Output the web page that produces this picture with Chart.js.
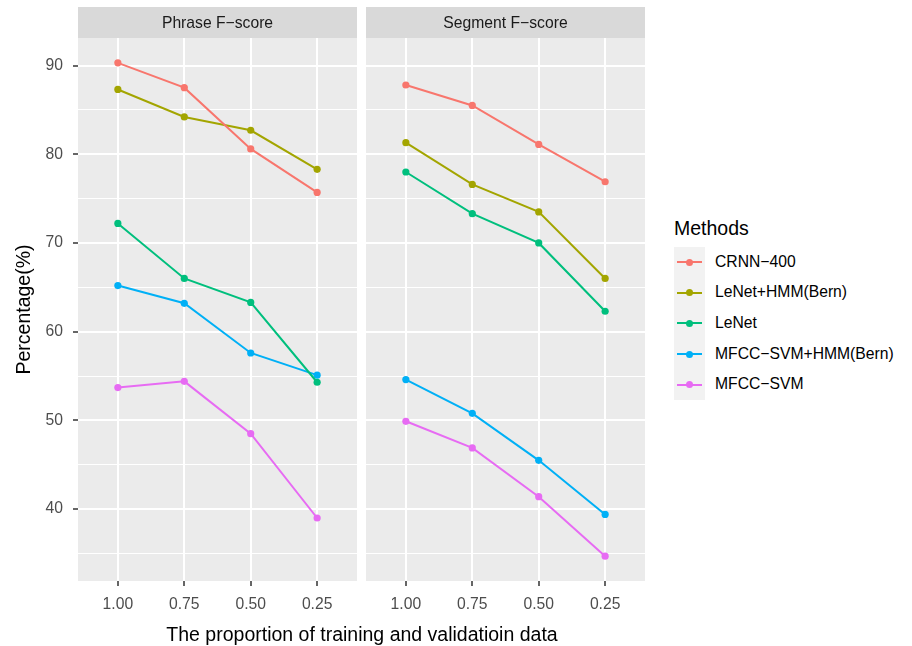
<!DOCTYPE html>
<html>
<head>
<meta charset="utf-8">
<title>Phrase / Segment F-score</title>
<script src="https://cdn.jsdelivr.net/npm/chart.js@4.4.1/dist/chart.umd.min.js"></script>
<style>
  body { margin: 0; background: #fff; }
  #wrap { position: relative; width: 912px; height: 646px; background: #fff;
          font-family: 'Liberation Sans', Arial, sans-serif; overflow: hidden; }
  canvas { position: absolute; top: 0; }
  #phraseChart { left: 0; }
  #segmentChart { left: 366px; }
  #xTitle { position: absolute; left: 0; width: 724px; top: 624px; text-align: center;
            font-size: 19.5px; line-height: 20px; color: #000; white-space: nowrap; }
  #legendTitle { position: absolute; left: 674px; top: 218px; font-size: 19.5px;
                 line-height: 20px; color: #000; }
  #legendKeys { position: absolute; left: 674px; top: 246.7px; width: 31px; background: #F2F2F2; }
  .row { position: relative; height: 30.7px; }
  .row .ln { position: absolute; left: 3px; width: 25px; height: 2px; top: 14.35px; }
  .row .dot { position: absolute; left: 12px; top: 11.85px; width: 7px; height: 7px; border-radius: 50%; }
  .row .lbl { position: absolute; left: 41px; top: 0; font-size: 15.7px; line-height: 30.7px;
              color: #000; white-space: nowrap; }
</style>
</head>
<body>
<div id="wrap">
  <canvas id="phraseChart" width="357" height="646"></canvas>
  <canvas id="segmentChart" width="279" height="646"></canvas>
  <div id="xTitle">The proportion of training and validatioin data</div>
  <div id="legendTitle">Methods</div>
  <div id="legendKeys"></div>
</div>
<script>
// ----------------------------------------
// Data
// ----------------------------------------
const categories = ['1.00', '0.75', '0.50', '0.25'];
const methods = ['CRNN\u2212400', 'LeNet+HMM(Bern)', 'LeNet', 'MFCC\u2212SVM+HMM(Bern)', 'MFCC\u2212SVM'];
const colors = ['#F8766D', '#A3A500', '#00BF7D', '#00B0F6', '#E76BF3'];

// Phrase F-score panel
const phraseCrnn      = [90.3, 87.5, 80.6, 75.7];
const phraseLenetHmm  = [87.3, 84.2, 82.7, 78.3];
const phraseLenet     = [72.2, 66.0, 63.3, 54.3];
const phraseMfccHmm   = [65.2, 63.2, 57.6, 55.1];
const phraseMfcc      = [53.7, 54.4, 48.5, 39.0];

// Segment F-score panel
const segmentCrnn     = [87.8, 85.5, 81.1, 76.9];
const segmentLenetHmm = [81.3, 76.6, 73.5, 66.0];
const segmentLenet    = [78.0, 73.3, 70.0, 62.3];
const segmentMfccHmm  = [54.6, 50.8, 45.5, 39.4];
const segmentMfcc     = [49.9, 46.9, 41.4, 34.7];

const yTicks = [40, 50, 60, 70, 80, 90];
const yMinorTicks = [35, 45, 55, 65, 75, 85];

const FONT = "'Liberation Sans', Arial, sans-serif";
Chart.defaults.font.family = FONT;

// grey panel background + facet strip on top
const panelStrip = {
    id: 'panelStrip',
    beforeDraw(chart, args, opts) {
        const { ctx, chartArea: a } = chart;
        ctx.save();
        ctx.fillStyle = '#EBEBEB';
        ctx.fillRect(a.left, a.top, a.right - a.left, a.bottom - a.top);
        ctx.fillStyle = '#D9D9D9';
        ctx.fillRect(a.left, 7, a.right - a.left, a.top - 7);
        ctx.fillStyle = '#1A1A1A';
        ctx.font = '15.7px ' + FONT;
        ctx.textAlign = 'center';
        ctx.textBaseline = 'alphabetic';
        ctx.fillText(opts.text, (a.left + a.right) / 2, 28);
        ctx.restore();
    }
};

function makeDatasets(series) {
    return series.map((values, i) => ({
        label: methods[i],
        data: values.map((v, j) => ({ x: j + 1, y: v })),
        borderColor: colors[i],
        backgroundColor: colors[i],
        borderWidth: 2,
        pointRadius: 3.6,
        pointBorderWidth: 0,
        pointBackgroundColor: colors[i],
        tension: 0
    }));
}

function makeChart(canvasId, title, series, showY) {
    const isMajor = v => yTicks.includes(v);
    return new Chart(document.getElementById(canvasId), {
        type: 'line',
        data: { datasets: makeDatasets(series) },
        options: {
            responsive: false,
            animation: false,
            devicePixelRatio: 1,
            layout: { autoPadding: false, padding: { top: 38, left: 0, right: 0, bottom: 0 } },
            plugins: {
                legend: { display: false },
                tooltip: { enabled: false },
                panelStrip: { text: title }
            },
            scales: {
                x: {
                    type: 'linear',
                    min: 0.4,
                    max: 4.6,
                    afterBuildTicks: s => { s.ticks = categories.map((c, i) => ({ value: i + 1 })); },
                    afterFit: s => { s.height = 65; s.paddingLeft = 0; s.paddingRight = 0; },
                    border: { display: false },
                    grid: { color: '#FFFFFF', lineWidth: 2, tickColor: '#333333', tickLength: 5, tickWidth: 1.5 },
                    ticks: {
                        callback: v => categories[v - 1],
                        font: { size: 15.7 },
                        color: '#4D4D4D',
                        padding: 9,
                        maxRotation: 0
                    }
                },
                y: {
                    type: 'linear',
                    min: 31.9,
                    max: 93.1,
                    afterBuildTicks: s => {
                        s.ticks = yTicks.concat(yMinorTicks).sort((a, b) => a - b).map(v => ({ value: v }));
                    },
                    afterFit: s => { s.width = showY ? 78 : 0; s.paddingTop = 0; s.paddingBottom = 0; },
                    border: { display: false },
                    grid: {
                        color: '#FFFFFF',
                        lineWidth: c => (c.tick && isMajor(c.tick.value)) ? 2 : 1,
                        tickColor: c => (c.tick && isMajor(c.tick.value)) ? '#333333' : 'rgba(0,0,0,0)',
                        tickLength: 5,
                        tickWidth: 1.5,
                        drawTicks: showY
                    },
                    ticks: {
                        display: showY,
                        callback: v => isMajor(v) ? String(v) : '',
                        font: { size: 15.7 },
                        color: '#4D4D4D',
                        padding: 10
                    },
                    title: {
                        display: showY,
                        text: 'Percentage(%)',
                        color: '#000000',
                        font: { size: 19.5 },
                        padding: { top: 13, bottom: 0 }
                    }
                }
            }
        },
        plugins: [panelStrip]
    });
}

// legend in ggplot style
function buildLegend() {
    const box = document.getElementById('legendKeys');
    methods.forEach((m, i) => {
        const row = document.createElement('div');
        row.className = 'row';
        row.innerHTML = `<div class="ln" style="background:${colors[i]}"></div>` +
                        `<div class="dot" style="background:${colors[i]}"></div>` +
                        `<div class="lbl">${m}</div>`;
        box.appendChild(row);
    });
}

makeChart('phraseChart', 'Phrase F\u2212score',
    [phraseCrnn, phraseLenetHmm, phraseLenet, phraseMfccHmm, phraseMfcc], true);
makeChart('segmentChart', 'Segment F\u2212score',
    [segmentCrnn, segmentLenetHmm, segmentLenet, segmentMfccHmm, segmentMfcc], false);
buildLegend();
</script>
</body>
</html>
